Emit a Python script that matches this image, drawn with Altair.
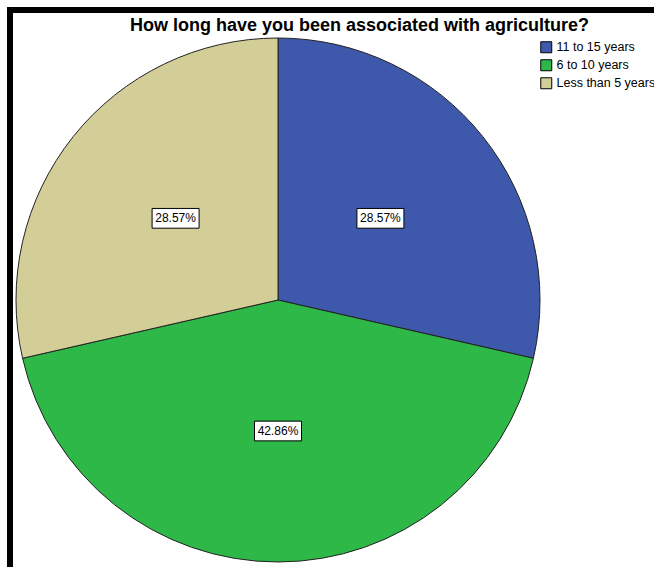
import math
import altair as alt
import pandas as pd

categories = ["11 to 15 years", "6 to 10 years", "Less than 5 years"]
percents = [28.57, 42.86, 28.57]
labels = ["28.57%", "42.86%", "28.57%"]
colors = ["#3E58AC", "#2EB848", "#D3CE97"]
title_text = "How long have you been associated with agriculture?"

# label positions from data: mid-angle of each slice at half radius
total = sum(percents)
cum = 0.0
lx, ly = [], []
for p in percents:
    mid = (cum + p / 2) / total * 2 * math.pi
    cum += p
    lx.append(0.5 * math.sin(mid))
    ly.append(0.5 * math.cos(mid))

df = pd.DataFrame({
    "category": categories,
    "percent": percents,
    "label": labels,
    "order": list(range(len(categories))),
    "lx": lx,
    "ly": ly,
})

W = 524
H = 524
R = 262
FONT = "Liberation Sans"

color_enc = alt.Color(
    "category:N",
    scale=alt.Scale(domain=categories, range=colors),
    legend=alt.Legend(
        title=None, orient="none", legendX=524, legendY=3,
        symbolType="square", symbolSize=121, symbolStrokeColor="#000000",
        symbolStrokeWidth=1, labelFont=FONT, labelFontSize=12.5,
        labelColor="#000000", rowPadding=2, labelOffset=4,
        symbolOffset=0, padding=0,
    ),
)

pie = alt.Chart(df).mark_arc(
    outerRadius=R, stroke="#222222", strokeWidth=1
).encode(
    theta=alt.Theta("percent:Q", stack=True),
    color=color_enc,
    order=alt.Order("order:Q"),
)

xs = alt.Scale(domain=[-1, 1], zero=False, nice=False)
ys = alt.Scale(domain=[-1, 1], zero=False, nice=False)

box = alt.Chart(df).mark_point(
    shape="M-1,-0.42L1,-0.42L1,0.42L-1,0.42Z", size=2209,
    filled=True, fill="#FFFFFF", stroke="#000000", strokeWidth=1, opacity=1,
).encode(
    x=alt.X("lx:Q", scale=xs, axis=None),
    y=alt.Y("ly:Q", scale=ys, axis=None),
)

txt = alt.Chart(df).mark_text(
    font=FONT, fontSize=12, color="#000000"
).encode(
    x=alt.X("lx:Q", scale=xs, axis=None),
    y=alt.Y("ly:Q", scale=ys, axis=None),
    text="label:N",
)

dummy = pd.DataFrame({"a": [0]})
left_rule = alt.Chart(dummy).mark_rule(color="#000000", strokeWidth=6).encode(
    x=alt.value(-6), y=alt.value(-31), y2=alt.value(529)
)
top_rule = alt.Chart(dummy).mark_rule(color="#000000", strokeWidth=6).encode(
    x=alt.value(-9), x2=alt.value(640), y=alt.value(-28)
)

chart = alt.layer(pie, box, txt, left_rule, top_rule).properties(
    width=W, height=H,
    title=alt.TitleParams(
        title_text, anchor="start", dx=126, dy=37, font=FONT, fontSize=18,
        fontWeight="bold", color="#000000", offset=6,
    ),
    autosize=alt.AutoSizeParams(type="none"),
    padding={"left": 16, "top": 38, "right": 114, "bottom": 5},
).configure(background="#FFFFFF").configure_view(strokeWidth=0, stroke="transparent")

chart.save("out.html", embed_options={"renderer": "svg", "actions": False})
